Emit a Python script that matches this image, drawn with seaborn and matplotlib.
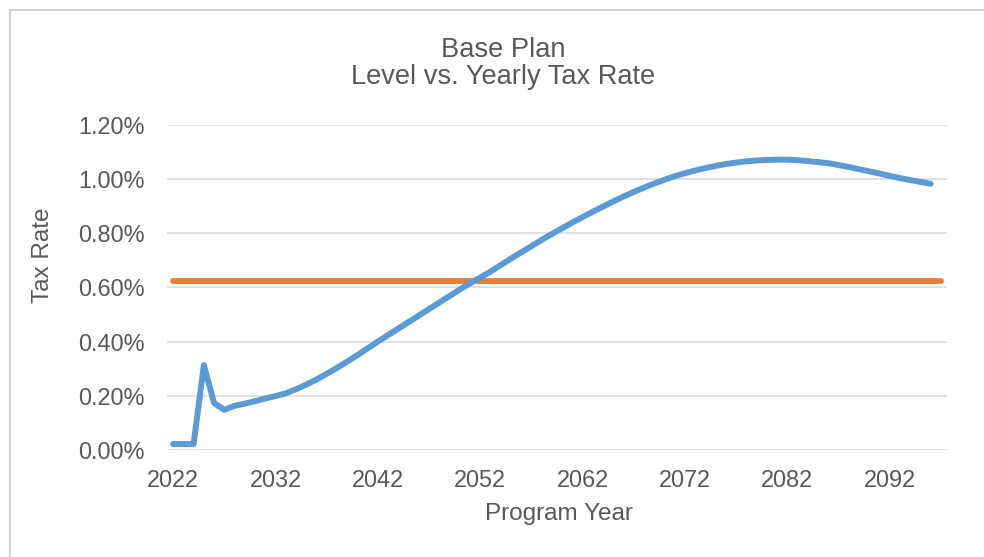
import matplotlib
matplotlib.use("Agg")
import matplotlib.pyplot as plt
from matplotlib.patches import Rectangle
from matplotlib.ticker import FuncFormatter
import pandas as pd
import seaborn as sns

# Yearly tax rate (%) by program year
years_yearly = list(range(2022, 2097))
yearly_rate = [
    0.022, 0.022, 0.022, 0.313, 0.173, 0.148, 0.163, 0.171, 0.180, 0.190,
    0.199, 0.209, 0.224, 0.241, 0.260, 0.281, 0.303, 0.326, 0.350, 0.375,
    0.400, 0.424, 0.448, 0.472, 0.496, 0.520, 0.544, 0.568, 0.592, 0.615,
    0.636, 0.658, 0.682, 0.706, 0.729, 0.752, 0.775, 0.797, 0.818, 0.839,
    0.859, 0.879, 0.898, 0.917, 0.935, 0.952, 0.968, 0.983, 0.997, 1.010,
    1.021, 1.031, 1.040, 1.048, 1.055, 1.060, 1.065, 1.068, 1.070, 1.071,
    1.071, 1.069, 1.066, 1.062, 1.058, 1.051, 1.044, 1.036, 1.028, 1.020,
    1.011, 1.003, 0.996, 0.989, 0.982,
]

# Level tax rate (%) held flat over the program years
years_level = list(range(2022, 2098))
level_rate_value = 0.625

x_ticks = [2022, 2032, 2042, 2052, 2062, 2072, 2082, 2092]
y_ticks = [0.0, 0.2, 0.4, 0.6, 0.8, 1.0, 1.2]

yearly_df = pd.DataFrame({"year": years_yearly, "rate": yearly_rate})
level_df = pd.DataFrame({"year": years_level,
                         "rate": [level_rate_value] * len(years_level)})

sns.set_theme(style="white")
plt.rcParams["font.family"] = ["Liberation Sans", "DejaVu Sans"]

TEXT = "#595959"
GRID = "#d9d9d9"

fig = plt.figure(figsize=(9.84, 5.57), dpi=100)
W, H = 984, 557
ax = fig.add_axes([167 / W, 1 - 450 / H, (947 - 167) / W, (450 - 124.7) / H])

# Chart-area border
fig.patches.append(Rectangle((9.5 / W, -0.1), 1.2, (H - 9.5) / H + 0.1,
                             transform=fig.transFigure, fill=False,
                             edgecolor="#c9c9c9", linewidth=1.2))

for y in y_ticks:
    ax.axhline(y, color=GRID, linewidth=1.1, zorder=0)

sns.lineplot(data=level_df, x="year", y="rate", ax=ax, color="#ed7d31",
             linewidth=4.2, solid_capstyle="round", zorder=3)
sns.lineplot(data=yearly_df, x="year", y="rate", ax=ax, color="#5b9bd5",
             linewidth=4.3, solid_capstyle="round", solid_joinstyle="round",
             zorder=4)

ax.set_xlim(2021.4, 2097.6)
ax.set_ylim(0, 1.2)
ax.set_xticks(x_ticks)
ax.set_yticks(y_ticks)
ax.yaxis.set_major_formatter(FuncFormatter(lambda v, p: f"{v:.2f}%"))
ax.tick_params(axis="both", length=0, labelsize=16.9, colors=TEXT)
ax.tick_params(axis="x", pad=14)
ax.tick_params(axis="y", pad=16)
for s in ax.spines.values():
    s.set_visible(False)
ax.set_xlabel("")
ax.set_ylabel("")
ax.grid(False)

fig.text(559 / W, 1 - 514 / H, "Program Year", ha="center", va="center",
         fontsize=17.5, color=TEXT)
fig.text(43 / W, 1 - 255 / H, "Tax Rate", ha="center", va="center",
         rotation=90, fontsize=17.5, color=TEXT)

fig.text(503 / W, 1 - 56.7 / H, "Base Plan", ha="center", va="baseline",
         fontsize=19.6, color=TEXT)
fig.text(503 / W, 1 - 84 / H, "Level vs. Yearly Tax Rate", ha="center",
         va="baseline", fontsize=19.6, color=TEXT)

fig.savefig("out.png", dpi=100, facecolor="white")
